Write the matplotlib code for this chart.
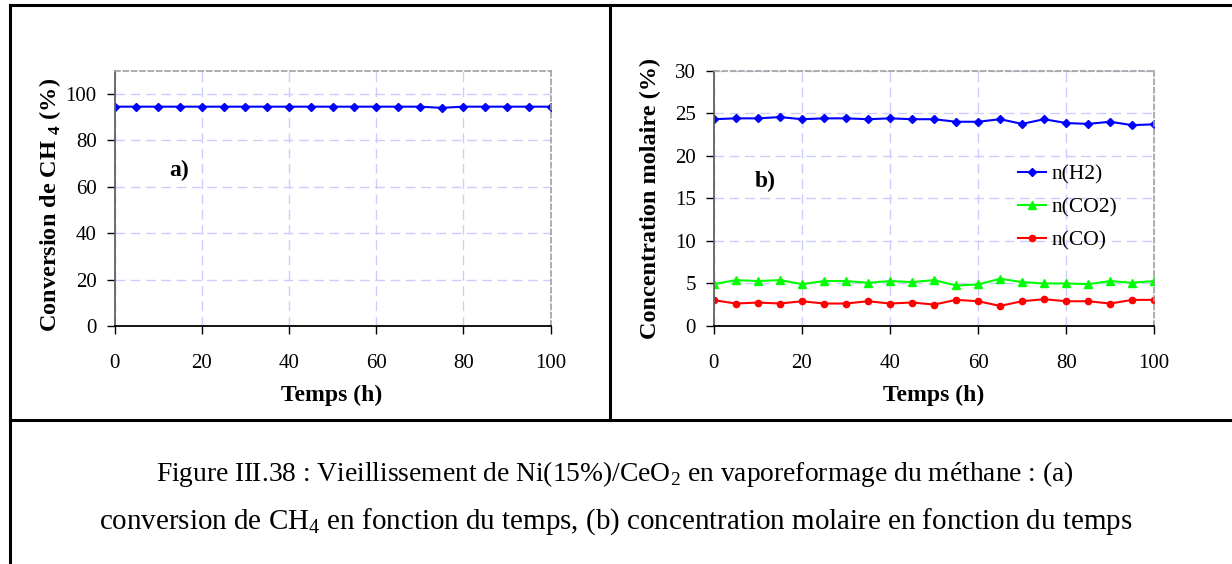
import numpy as np
import matplotlib
matplotlib.use("Agg")
import matplotlib.pyplot as plt
from matplotlib.lines import Line2D

plt.rcParams['font.family'] = ['Liberation Serif', 'DejaVu Serif']
plt.rcParams['mathtext.fontset'] = 'custom'
plt.rcParams['mathtext.rm'] = 'Liberation Serif'
plt.rcParams['mathtext.bf'] = 'Liberation Serif:bold'

# donnees
temps = [0, 5, 10, 15, 20, 25, 30, 35, 40, 45, 50, 55, 60, 65, 70, 75, 80, 85, 90, 95, 100]
conv_ch4 = [94.5, 94.5, 94.5, 94.5, 94.5, 94.5, 94.5, 94.5, 94.5, 94.5, 94.5,
            94.5, 94.5, 94.5, 94.5, 94.0, 94.5, 94.5, 94.5, 94.5, 94.5]
n_h2 = [24.3, 24.4, 24.4, 24.55, 24.3, 24.4, 24.4, 24.3, 24.4, 24.3, 24.3,
        24.0, 24.0, 24.3, 23.75, 24.3, 23.85, 23.75, 24.0, 23.6, 23.7]
n_co2 = [4.92, 5.39, 5.28, 5.39, 4.92, 5.28, 5.28, 5.08, 5.28, 5.16, 5.39,
         4.76, 4.88, 5.55, 5.16, 5.0, 5.0, 4.92, 5.28, 5.08, 5.28]
n_co = [3.03, 2.64, 2.76, 2.64, 2.91, 2.64, 2.64, 2.91, 2.64, 2.76, 2.52,
        3.07, 2.91, 2.36, 2.91, 3.15, 2.91, 2.91, 2.64, 3.07, 3.07]

W, H = 1232, 564
fig = plt.figure(figsize=(W / 100, H / 100), dpi=100)

def px(x, y):
    return x / W, 1 - y / H

grid_col = (0.80, 0.80, 1.0)

def style(ax, ymax, ystep):
    ax.set_xlim(0, 100)
    ax.set_ylim(0, ymax)
    ax.set_xticks(range(0, 101, 20))
    ax.set_yticks(np.arange(0, ymax + 0.1, ystep))
    ax.grid(True, color=grid_col, linestyle=(0, (7, 4)), linewidth=1.0)
    ax.set_axisbelow(True)
    for s in ['top', 'right']:
        ax.spines[s].set_linestyle((0, (3, 2)))
        ax.spines[s].set_color('#a0a0a0')
        ax.spines[s].set_linewidth(1.2)
    ax.spines['left'].set_color('#606060')
    ax.spines['left'].set_linewidth(1.3)
    ax.spines['bottom'].set_color('black')
    ax.spines['bottom'].set_linewidth(1.3)
    ax.tick_params(axis='both', direction='out', length=5.5, width=1.0,
                   labelsize=15)
    ax.tick_params(axis='x', pad=15)
    ax.tick_params(axis='y', pad=7.5)

# a)
ax1 = fig.add_axes([114.6 / W, 1 - 326 / H, (550.6 - 114.6) / W, (326 - 70.7) / H])
style(ax1, 110, 20)
ax1.set_yticks(range(0, 101, 20))
ax1.plot(temps, conv_ch4, color='#0000ff', marker='D', markersize=4, linewidth=1.5)
ax1.text(12.5, 64.5, 'a)', fontsize=17, fontweight='bold')

# b)
ax2 = fig.add_axes([713.9 / W, 1 - 326 / H, (1154.2 - 713.9) / W, (326 - 70.7) / H])
style(ax2, 30, 5)
ax2.plot(temps, n_h2, color='#0000ff', marker='D', markersize=4, linewidth=1.5, label='n(H2)')
ax2.plot(temps, n_co2, color='#00ff00', marker='^', markersize=6, linewidth=1.5, label='n(CO2)')
ax2.plot(temps, n_co, color='#ff0000', marker='o', markersize=4.5, linewidth=1.5, label='n(CO)')
ax2.text(9.3, 16.3, 'b)', fontsize=17, fontweight='bold')
ax2.legend(loc='upper left', bbox_to_anchor=(0.691, 0.631), frameon=False,
           borderaxespad=0, borderpad=0,
           fontsize=15.5, handlelength=1.3, handletextpad=0.25, labelspacing=0.6)

# titres des axes
fig.text(*px(332, 395), 'Temps (h)', ha='center', va='center', fontsize=17, fontweight='bold')
fig.text(*px(934, 395), 'Temps (h)', ha='center', va='center', fontsize=17, fontweight='bold')
fig.text(*px(50, 205), r'Conversion de CH $_{\mathbf{4}}$ (%)', ha='center', va='center',
         rotation=90, fontsize=17.5, fontweight='bold')
fig.text(*px(650, 198), 'Concentration molaire (%)', ha='center', va='center',
         rotation=90, fontsize=17.5, fontweight='bold')

# legende de la figure
fig.text(*px(615, 474), r'Figure III.38 : Vieillissement de Ni(15%)/CeO$_2$ en vaporeformage du méthane : (a)',
         ha='center', va='center', fontsize=19.8)
fig.text(*px(616, 522), r'conversion de CH$_4$ en fonction du temps, (b) concentration molaire en fonction du temps',
         ha='center', va='center', fontsize=20.9)

# cadre du tableau
lw = 2.2
for (x0, y0, x1, y1) in [(10, 5, 1232, 5), (10, 5, 10, 564), (610, 5, 610, 420), (10, 420, 1232, 420)]:
    a, b = px(x0, y0)
    c, d = px(x1, y1)
    fig.add_artist(Line2D([a, c], [b, d], transform=fig.transFigure, color='black', linewidth=lw))

fig.savefig('out.png', dpi=100)
